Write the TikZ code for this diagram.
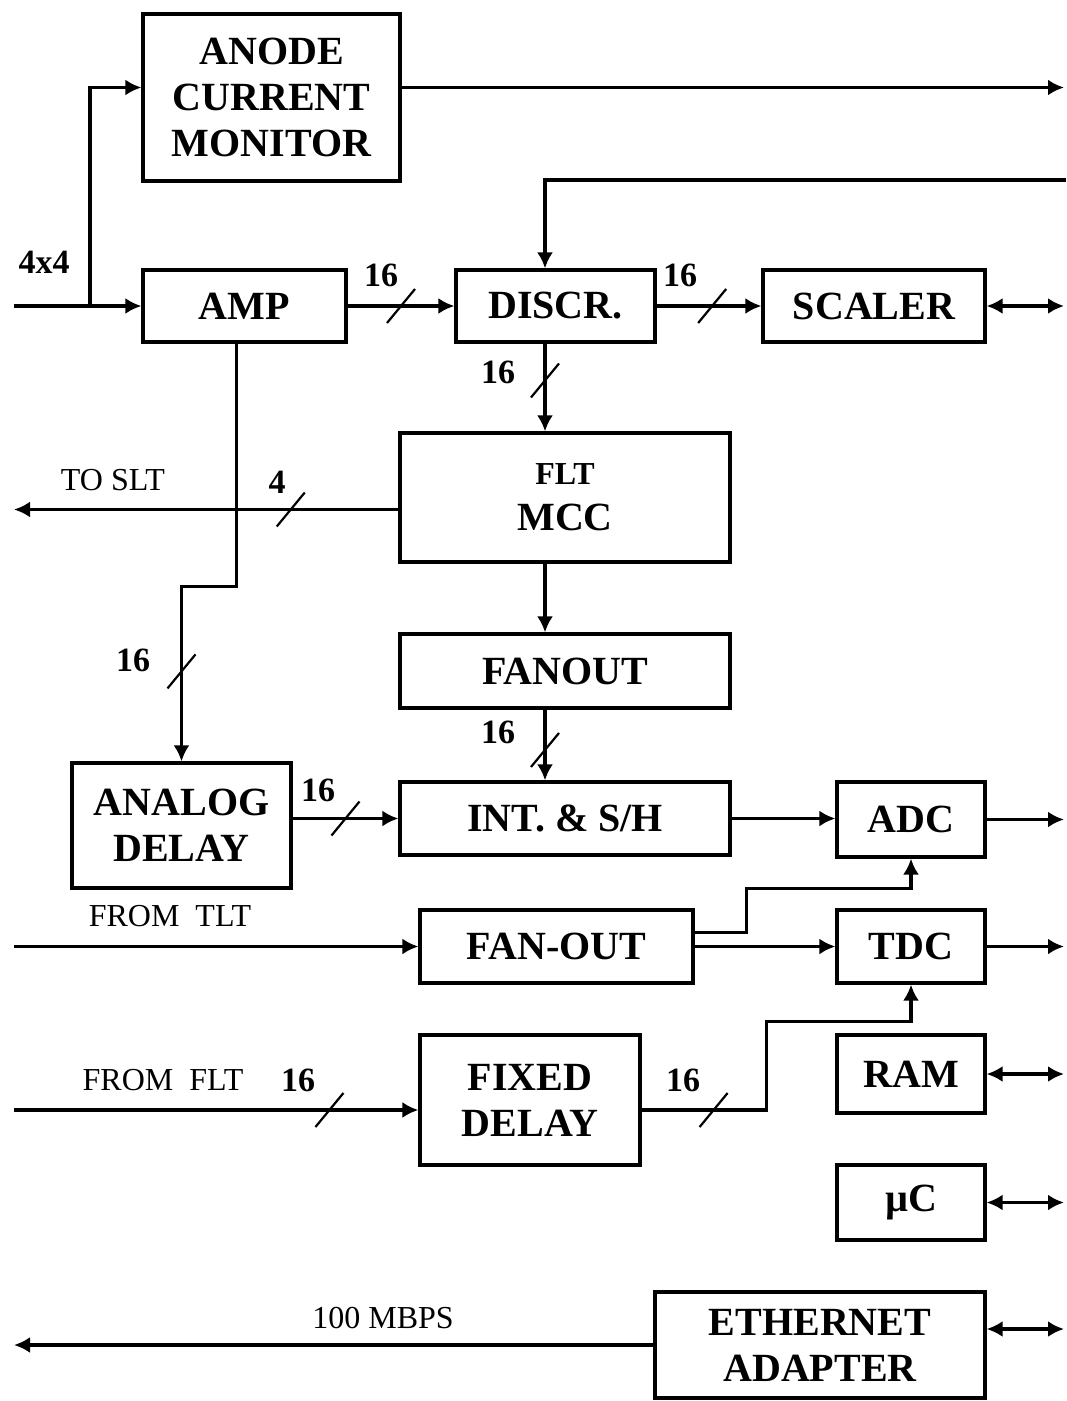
\documentclass[tikz,border=0pt]{standalone}
\usepackage{fontspec}
\setmainfont{Liberation Serif}
\usetikzlibrary{positioning,arrows.meta,calc}
\tikzset{
  bloque/.style={rectangle, draw, line width=1.6pt, align=center, inner sep=0pt,
    font=\bfseries\fontsize{20}{23}\selectfont},
  flecha/.style={-{Latex[length=8pt,width=8pt]}, line width=1.6pt},
  doble/.style={{Latex[length=8pt,width=8pt]}-{Latex[length=8pt,width=8pt]}, line width=1.6pt},
  barra/.style={line width=1.1pt},
  etq/.style={font=\fontsize{16}{18}\selectfont},
  num/.style={font=\bfseries\fontsize{17}{19}\selectfont},
}
\newcommand{\bus}[1]{\draw[barra] #1 ++(-14,17) -- ++(28,-34);}

\begin{document}
\begin{tikzpicture}[x=0.5pt, y=-0.5pt]
  \useasboundingbox (0,0) rectangle (1066,1401);
  % bordes
  \coordinate (edgeL) at (14,0);
  \coordinate (edgeR) at (1064,0);
  \coordinate (spine) at (545,0);
  % bloques
  \node[bloque, minimum width=128.5pt, minimum height=83.5pt] (anode) at (271.5,97.5) {ANODE\\CURRENT\\MONITOR};
  \node[bloque, minimum width=101.5pt, minimum height=36pt] (amp) at (244.5,306) {AMP};
  \node[bloque, minimum width=99.5pt, minimum height=36pt] (discr) at (555.5,306) {DISCR.};
  \node[bloque, minimum width=111pt, minimum height=36pt] (scaler) at (874,306) {SCALER};
  \node[bloque, minimum width=165pt, minimum height=64.5pt] (flt) at (565,497.5) {{\fontsize{16}{20}\selectfont FLT}\\MCC};
  \node[bloque, minimum width=165pt, minimum height=37pt] (fanout) at (565,671) {FANOUT};
  \node[bloque, minimum width=109.5pt, minimum height=62.5pt] (adelay) at (181.5,825.5) {ANALOG\\DELAY};
  \node[bloque, minimum width=165pt, minimum height=36.5pt] (inth) at (565,818.5) {INT. \& S/H};
  \node[bloque, minimum width=74pt, minimum height=37.5pt] (adc) at (911,819.5) {ADC};
  \node[bloque, minimum width=136.5pt, minimum height=36.5pt] (fantlt) at (556.5,946.5) {FAN-OUT};
  \node[bloque, minimum width=74pt, minimum height=36.5pt] (tdc) at (911,946.5) {TDC};
  \node[bloque, minimum width=110pt, minimum height=65pt] (fixdelay) at (530,1100) {FIXED\\DELAY};
  \node[bloque, minimum width=74pt, minimum height=39pt] (ram) at (911,1074) {RAM};
  \node[bloque, minimum width=74pt, minimum height=37.5pt] (uc) at (911,1202.5) {µC};
  \node[bloque, minimum width=165pt, minimum height=53pt] (eth) at (820,1345) {ETHERNET\\ADAPTER};
  % etiquetas
  \node[num] (l4x4) at (44,262) {4x4};
  \node[num] (n1) at (381,275) {16};
  \node[num] (n2) at (680,275) {16};
  \node[num] (n3) at (498,372) {16};
  \node[etq] (tslt) at (113,480) {TO SLT};
  \node[num] (n4) at (277,482) {4};
  \node[num] (n5) at (133,660) {16};
  \node[num] (n6) at (498,732) {16};
  \node[num] (n7) at (318,790) {16};
  \node[etq] (ftlt) at (170,916) {FROM\ \ TLT};
  \node[etq] (fflt) at (163,1080) {FROM\ \ FLT};
  \node[num] (n8) at (298,1080) {16};
  \node[num] (n9) at (683,1080) {16};
  \node[etq] (mbps) at (383,1318) {100 MBPS};
  % entrada 4x4
  \coordinate (rama) at (90,306);
  \draw[flecha] (amp.west -| edgeL) -- (amp.west);
  \draw[flecha] (rama) |- ([yshift=5pt]anode.west);
  \draw[flecha] ([yshift=5pt]anode.east) -- ([yshift=5pt]anode.east -| edgeR);
  \coordinate (thr) at (1066,180);
  \draw[flecha] (thr) -| (discr.north -| spine);
  % canal principal
  \draw[flecha] (amp.east) -- (discr.west);
  \bus{($(amp.east)!.5!(discr.west)$)}
  \draw[flecha] (discr.east) -- (scaler.west);
  \bus{($(discr.east)!.53!(scaler.west)$)}
  \draw[doble] (scaler.east) -- (scaler.east -| edgeR);
  \draw[flecha] (discr.south -| spine) -- (flt.north -| spine);
  \bus{($(discr.south -| spine)!.42!(flt.north -| spine)$)}
  \coordinate (sltA) at ([yshift=-6pt]flt.west);
  \coordinate (sltB) at (sltA -| edgeL);
  \draw[flecha] (sltA) -- (sltB);
  \bus{($(sltA)!.28!(sltB)$)}
  \draw[flecha] ([xshift=-4pt]amp.south) -- ++(0,243) -| (adelay.north);
  \bus{($(adelay.north)+(0,-90)$)}
  \draw[flecha] (flt.south -| spine) -- (fanout.north -| spine);
  \draw[flecha] (fanout.south -| spine) -- (inth.north -| spine);
  \bus{($(fanout.south -| spine)!.57!(inth.north -| spine)$)}
  \draw[flecha] (adelay.east |- inth.west) -- (inth.west);
  \bus{($(adelay.east |- inth.west)!.5!(inth.west)$)}
  \draw[flecha] (inth.east) -- (inth.east -| adc.west);
  \draw[flecha] (adc.east) -- (adc.east -| edgeR);
  % TLT y FLT
  \draw[flecha] (fantlt.west -| edgeL) -- (fantlt.west);
  \draw[flecha] ([yshift=7pt]fantlt.east) -- ++(52,0) |- ($(adc.south)+(0,30)$) -- (adc.south);
  \draw[flecha] (fantlt.east) -- (tdc.west);
  \draw[flecha] (tdc.east) -- (tdc.east -| edgeR);
  \coordinate (fdin) at ([yshift=-5pt]fixdelay.west);
  \draw[flecha] (fdin -| edgeL) -- (fdin);
  \bus{($(fdin -| edgeL)!.78!(fdin)$)}
  \coordinate (fdout) at ([yshift=-5pt]fixdelay.east);
  \draw[flecha] (fdout) -- ++(125,0) |- ($(tdc.south)+(0,37)$) -- (tdc.south);
  \bus{($(fdout)+(72,0)$)}
  % bus local
  \draw[doble] (ram.east) -- (ram.east -| edgeR);
  \draw[doble] (uc.east) -- (uc.east -| edgeR);
  \draw[flecha] (eth.west) -- (eth.west -| edgeL);
  \draw[doble] ([yshift=8pt]eth.east) -- ([yshift=8pt]eth.east -| edgeR);
\end{tikzpicture}
\end{document}
